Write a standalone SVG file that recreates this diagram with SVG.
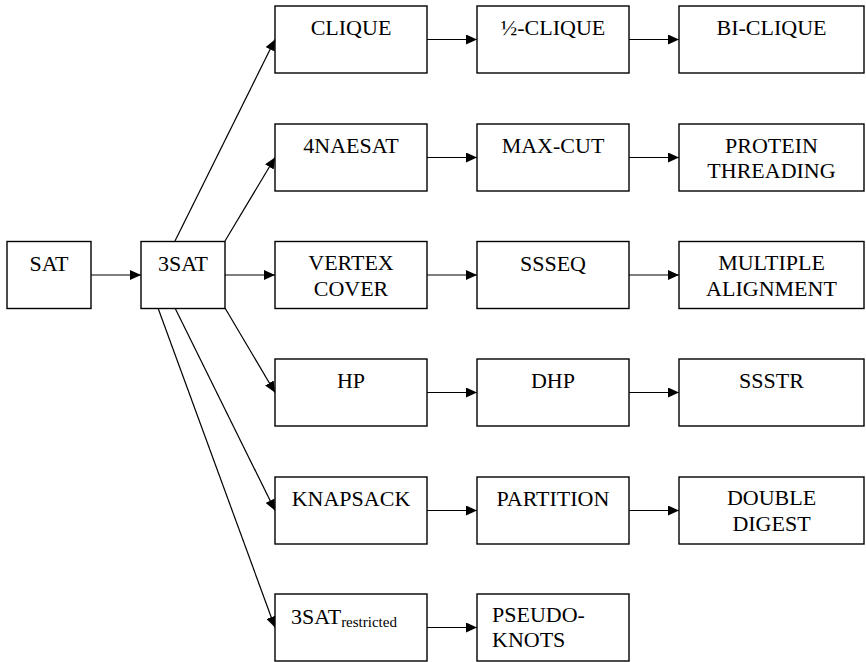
<svg xmlns="http://www.w3.org/2000/svg" width="866" height="662" viewBox="0 0 866 662" font-family="'Liberation Serif', 'Times New Roman', Tinos, 'DejaVu Serif', serif">
<style>
.box{fill:#fff;stroke:#000;stroke-width:1.4}
.t{font-size:22px;fill:#000;text-anchor:middle}
.l{text-anchor:start}
.sub{font-size:15px}
.c{stroke:#000;stroke-width:1.2;fill:none;marker-end:url(#ah)}
</style>
<defs>
<marker id="ah" markerUnits="userSpaceOnUse" markerWidth="12" markerHeight="10" refX="11" refY="5" orient="auto">
<path d="M0,0 L11,5 L0,10 z" fill="#000"/>
</marker>
</defs>
<g id="connectors">
<line class="c" x1="91" y1="275" x2="141" y2="275"/>
<line class="c" x1="225" y1="275" x2="275" y2="275"/>
<line class="c" x1="175" y1="241" x2="275" y2="39.5"/>
<line class="c" x1="225" y1="241" x2="275" y2="157.5"/>
<line class="c" x1="225" y1="308" x2="275" y2="392.5"/>
<line class="c" x1="175" y1="308" x2="275" y2="510.5"/>
<line class="c" x1="158" y1="308" x2="275" y2="627.5"/>
<line class="c" x1="427" y1="39.5" x2="477" y2="39.5"/>
<line class="c" x1="629" y1="39.5" x2="679" y2="39.5"/>
<line class="c" x1="427" y1="157.5" x2="477" y2="157.5"/>
<line class="c" x1="629" y1="157.5" x2="679" y2="157.5"/>
<line class="c" x1="427" y1="275" x2="477" y2="275"/>
<line class="c" x1="629" y1="275" x2="679" y2="275"/>
<line class="c" x1="427" y1="392.5" x2="477" y2="392.5"/>
<line class="c" x1="629" y1="392.5" x2="679" y2="392.5"/>
<line class="c" x1="427" y1="510.5" x2="477" y2="510.5"/>
<line class="c" x1="629" y1="510.5" x2="679" y2="510.5"/>
<line class="c" x1="427" y1="627.5" x2="477" y2="627.5"/>
</g>
<g id="sat"><rect class="box" x="7" y="241.5" width="84" height="67"/><text class="t" x="49" y="270.5">SAT</text></g>
<g id="3sat"><rect class="box" x="141" y="241.5" width="84" height="67"/><text class="t" x="183" y="270.5">3SAT</text></g>

<g id="clique"><rect class="box" x="275" y="6" width="152" height="67"/><text class="t" x="351" y="35">CLIQUE</text></g>
<g id="half-clique"><rect class="box" x="477" y="6" width="152" height="67"/><text class="t" x="553" y="35">½-CLIQUE</text></g>
<g id="bi-clique"><rect class="box" x="679" y="6" width="185" height="67"/><text class="t" x="771.5" y="35">BI-CLIQUE</text></g>

<g id="4naesat"><rect class="box" x="275" y="124" width="152" height="67"/><text class="t" x="351" y="153">4NAESAT</text></g>
<g id="max-cut"><rect class="box" x="477" y="124" width="152" height="67"/><text class="t" x="553" y="153">MAX-CUT</text></g>
<g id="protein-threading"><rect class="box" x="679" y="124" width="185" height="67"/><text class="t" x="771.5" y="152.5">PROTEIN</text><text class="t" x="771.5" y="178">THREADING</text></g>

<g id="vertex-cover"><rect class="box" x="275" y="241.5" width="152" height="67"/><text class="t" x="351" y="270">VERTEX</text><text class="t" x="351" y="295.5">COVER</text></g>
<g id="ssseq"><rect class="box" x="477" y="241.5" width="152" height="67"/><text class="t" x="553" y="270.5">SSSEQ</text></g>
<g id="multiple-alignment"><rect class="box" x="679" y="241.5" width="185" height="67"/><text class="t" x="771.5" y="270">MULTIPLE</text><text class="t" x="771.5" y="295.5">ALIGNMENT</text></g>

<g id="hp"><rect class="box" x="275" y="359" width="152" height="67"/><text class="t" x="351" y="388">HP</text></g>
<g id="dhp"><rect class="box" x="477" y="359" width="152" height="67"/><text class="t" x="553" y="388">DHP</text></g>
<g id="ssstr"><rect class="box" x="679" y="359" width="185" height="67"/><text class="t" x="771.5" y="388">SSSTR</text></g>

<g id="knapsack"><rect class="box" x="275" y="477" width="152" height="67"/><text class="t" x="351" y="506">KNAPSACK</text></g>
<g id="partition"><rect class="box" x="477" y="477" width="152" height="67"/><text class="t" x="553" y="506">PARTITION</text></g>
<g id="double-digest"><rect class="box" x="679" y="477" width="185" height="67"/><text class="t" x="771.5" y="505">DOUBLE</text><text class="t" x="771.5" y="530.5">DIGEST</text></g>

<g id="3sat-restricted"><rect class="box" x="275" y="594" width="152" height="67"/><text class="t l" x="291" y="624">3SAT<tspan class="sub" dy="3">restricted</tspan></text></g>
<g id="pseudoknots"><rect class="box" x="477" y="594" width="152" height="67"/><text class="t l" x="492" y="622">PSEUDO-</text><text class="t l" x="492" y="647">KNOTS</text></g>
</svg>
